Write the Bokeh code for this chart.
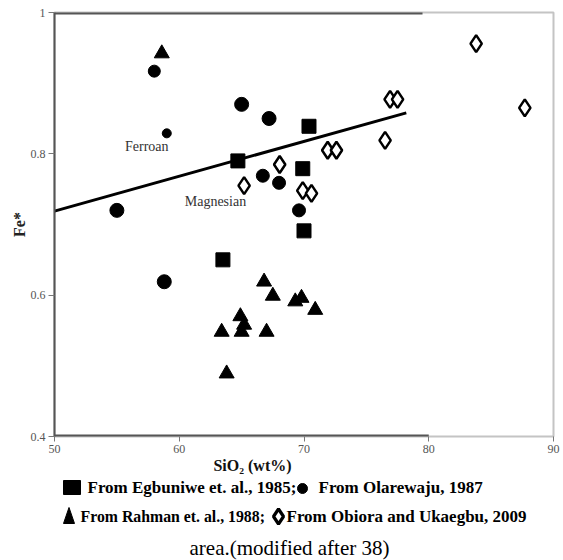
from bokeh.plotting import figure
from bokeh.models import Label, FixedTicker, Range1d
from bokeh.layouts import column
from bokeh.core.properties import value
from bokeh.embed import file_html
from bokeh.resources import INLINE

# Fe* vs SiO2 data, grouped by source
egb_x = [64.7, 70.4, 69.9, 70.0, 63.5]
egb_y = [0.790, 0.839, 0.779, 0.691, 0.650]

ola_x = [58.0, 65.0, 67.2, 59.0, 66.7, 68.0, 55.0, 69.6, 58.8]
ola_y = [0.917, 0.870, 0.850, 0.829, 0.769, 0.759, 0.720, 0.720, 0.619]
ola_s = [12, 14, 14, 9, 13, 13, 14, 13, 14]

rah_x = [58.6, 66.8, 67.5, 69.3, 69.8, 70.9, 64.9, 65.2, 63.4, 65.0, 67.0, 63.8]
rah_y = [0.942, 0.619, 0.599, 0.591, 0.596, 0.579, 0.570, 0.558, 0.548, 0.548, 0.548, 0.489]

obi_x = [68.05, 65.2, 71.9, 72.6, 76.5, 76.9, 77.5, 83.8, 87.7, 69.9, 70.6]
obi_y = [0.785, 0.755, 0.805, 0.805, 0.819, 0.877, 0.877, 0.956, 0.865, 0.748, 0.744]

# ferroan / magnesian boundary
line_x = [50.0, 78.2]
line_y = [0.719, 0.858]

x_ticks = [50, 60, 70, 80, 90]
y_ticks = [0.4, 0.6, 0.8, 1.0]
y_tick_labels = {0.4: "0.4", 0.6: "0.6", 0.8: "0.8", 1.0: "1"}

# key entries per row
key_row1 = ["From Egbuniwe et. al., 1985;", "From Olarewaju, 1987"]
key_row2 = ["From Rahman et. al., 1988;", "From Obiora and Ukaegbu, 2009"]
caption = "area.(modified after 38)"

SERIF = "Liberation Serif"
W = 563
MAIN_H = 456
KEY_H = 560 - MAIN_H
LEFT, RIGHT = 54, 10

p = figure(width=W, height=MAIN_H, output_backend="svg", toolbar_location=None,
           x_range=Range1d(50, 90), y_range=Range1d(0.4, 1.0),
           min_border_left=LEFT, min_border_right=RIGHT, min_border_top=12,
           min_border_bottom=20)
p.grid.visible = False
p.background_fill_color = "white"
p.border_fill_color = "white"
p.outline_line_color = "#c4c4c4"
p.outline_line_width = 2

p.xaxis.ticker = FixedTicker(ticks=x_ticks)
p.yaxis.ticker = FixedTicker(ticks=y_ticks)
p.yaxis.major_label_overrides = y_tick_labels
for ax in (p.xaxis, p.yaxis):
    ax.major_label_text_font = SERIF
    ax.major_label_text_font_size = "12px"
    ax.major_label_text_color = "#555555"
    ax.minor_tick_line_color = None
    ax.major_tick_in = 0
    ax.major_tick_line_color = "#777777"
p.yaxis.major_tick_out = 6
p.yaxis.major_label_standoff = 3
p.yaxis.axis_line_color = "#555555"
p.yaxis.axis_line_width = 2
p.yaxis.axis_label = "Fe*"
p.yaxis.axis_label_text_font = SERIF
p.yaxis.axis_label_text_font_style = "bold"
p.yaxis.axis_label_text_font_size = "16px"
p.yaxis.axis_label_text_color = "#222222"
p.yaxis.axis_label_standoff = 0
p.xaxis.major_tick_out = 5
p.xaxis.major_label_standoff = 3
p.xaxis.axis_line_color = None

# darker frame edges over the original plot width
p.segment(x0=[50, 50], y0=[0.4, 1.0], x1=[80, 79.5], y1=[0.4, 1.0],
          line_color="#555555", line_width=4)

# boundary line
p.line(line_x, line_y, line_color="black", line_width=3)

p.scatter(egb_x, egb_y, marker="square", size=14, color="black")
p.scatter(ola_x, ola_y, marker="circle", size=ola_s, color="black")
p.scatter(rah_x, rah_y, marker="triangle", size=15, color="black")
p.scatter(obi_x, obi_y, marker="diamond", size=17, fill_color="white",
          line_color="black", line_width=2.5)

p.add_layout(Label(x=57.4, y=0.810, text="Ferroan", text_font=SERIF,
                   text_font_size="14px", text_color="#333333",
                   text_align="center", text_baseline="middle"))
p.add_layout(Label(x=62.9, y=0.732, text="Magnesian", text_font=SERIF,
                   text_font_size="14px", text_color="#333333",
                   text_align="center", text_baseline="middle"))

# key panel below the chart, laid out in page pixels (y grows downwards);
# its frame shares the main chart's side borders
k = figure(width=W, height=KEY_H, output_backend="svg", toolbar_location=None,
           x_range=Range1d(LEFT, W - RIGHT), y_range=Range1d(560, MAIN_H),
           min_border_left=LEFT, min_border_right=RIGHT,
           min_border_top=0, min_border_bottom=0)
k.axis.visible = False
k.grid.visible = False
k.outline_line_color = None
k.background_fill_color = "white"
k.border_fill_color = "white"

k.text(x=[252], y=[465], text=["SiO\u2082 (wt%)"], text_font=value(SERIF),
       text_font_size="16px", text_font_style="bold", text_align="center",
       text_baseline="middle", text_color="#111111")

# key symbols
k.rect(x=[71.5], y=[487], width=17, height=14, color="black")
k.scatter(x=[302], y=[488], marker="circle", size=10, color="black")
k.patch(x=[63, 74, 68.5], y=[523, 523, 507], color="black")
k.scatter(x=[278], y=[516], marker="diamond", size=15, fill_color="white",
          line_color="black", line_width=3.2)

k.text(x=[87, 318], y=[487, 487], text=key_row1, text_font=value(SERIF),
       text_font_size="17px", text_font_style="bold", text_align="left",
       text_baseline="middle", text_color="black")
k.text(x=[80], y=[516], text=[key_row2[0]], text_font=value(SERIF),
       text_font_size="15.8px", text_font_style="bold", text_align="left",
       text_baseline="middle", text_color="black")
k.text(x=[286], y=[516], text=[key_row2[1]], text_font=value(SERIF),
       text_font_size="17px", text_font_style="bold", text_align="left",
       text_baseline="middle", text_color="black")
k.text(x=[289], y=[547], text=[caption], text_font=value(SERIF),
       text_font_size="21px", text_align="center", text_baseline="middle",
       text_color="black")

layout = column(p, k, spacing=0)
open("out.html", "w").write(file_html(layout, INLINE))
